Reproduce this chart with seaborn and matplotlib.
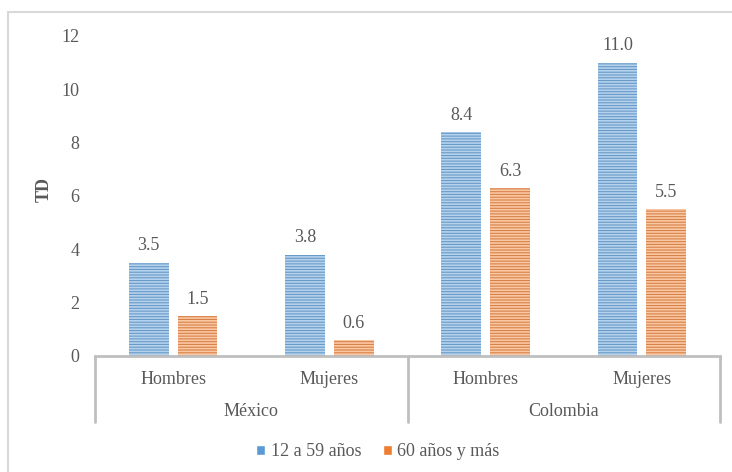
import pandas as pd
import matplotlib.pyplot as plt
import matplotlib.transforms as mtransforms
from matplotlib.lines import Line2D
from matplotlib.patches import Patch
import seaborn as sns

paises = ['México', 'México', 'Colombia', 'Colombia']
sexo = ['Hombres', 'Mujeres', 'Hombres', 'Mujeres']
td_12_59 = [3.5, 3.8, 8.4, 11.0]
td_60_mas = [1.5, 0.6, 6.3, 5.5]
edades = ['12 a 59 años', '60 años y más']

grupos = [p + ' ' + s for p, s in zip(paises, sexo)]
df = pd.DataFrame({
    'grupo': grupos * 2,
    'td': td_12_59 + td_60_mas,
    'edad': [edades[0]] * 4 + [edades[1]] * 4,
})

sns.set_style('white')
plt.rcParams['font.family'] = ['Liberation Serif', 'DejaVu Serif']
plt.rcParams['hatch.linewidth'] = 1.2
gris = '#595959'
linea = '#bfbfbf'
azul = '#5b9bd5'
naranja = '#ed7d31'
fs = 13

fig = plt.figure(figsize=(7.32, 4.72), dpi=100)
ax = fig.add_axes([95 / 732, 116 / 472, 625 / 732, 320 / 472])

sns.barplot(data=df, x='grupo', y='td', hue='edad', order=grupos,
            palette=[azul, naranja], width=0.624, gap=0.18, ax=ax, legend=False)

for cont, col in zip(ax.containers, ['#b4d2ee', '#fac7a3']):
    for bar in cont:
        bar.set_hatch('------')
        bar.set_edgecolor(col)
        bar.set_linewidth(0)
    ax.bar_label(cont, fmt='%.1f', padding=6, fontsize=fs, color=gris)

ax.set_ylim(0, 12)
ax.set_xlim(-0.5, 3.5)
ax.set_yticks(range(0, 13, 2))
ax.tick_params(axis='y', length=0, pad=11, labelsize=fs, labelcolor=gris)
ax.set_xticks(range(4))
ax.set_xticklabels(sexo)
ax.tick_params(axis='x', length=0, pad=11, labelsize=fs, labelcolor=gris)
ax.set_xlabel('')
ax.set_ylabel('TD', fontsize=fs, fontweight='bold', color=gris)
ax.yaxis.set_label_coords(-0.067, 0.52)

for s in ['top', 'right', 'left']:
    ax.spines[s].set_visible(False)
ax.spines['bottom'].set_color(linea)
ax.spines['bottom'].set_linewidth(2)

trans = mtransforms.blended_transform_factory(ax.transData, ax.transAxes)
for xs in [-0.5, 1.5, 3.5]:
    ax.add_line(Line2D([xs, xs], [0, -0.206], transform=trans, color=linea,
                       lw=2, clip_on=False))
for xc, p in [(0.5, 'México'), (2.5, 'Colombia')]:
    ax.text(xc, -0.175, p, transform=trans, ha='center', va='center',
            fontsize=fs, color=gris)

handles = [Patch(facecolor=azul, label=edades[0]),
           Patch(facecolor=naranja, label=edades[1])]
fig.legend(handles=handles, loc='center', bbox_to_anchor=(378 / 732, 1 - 452 / 472),
           ncol=2, frameon=False, fontsize=fs, labelcolor=gris,
           handlelength=0.5, handleheight=0.5, handletextpad=0.3, columnspacing=1.2)

fig.add_artist(Line2D([8 / 732, 8 / 732], [0, 1 - 12 / 472], transform=fig.transFigure,
                      color='#d9d9d9', lw=1.5))
fig.add_artist(Line2D([8 / 732, 1], [1 - 12 / 472, 1 - 12 / 472], transform=fig.transFigure,
                      color='#d9d9d9', lw=1.5))

fig.savefig('out.png', dpi=100)
